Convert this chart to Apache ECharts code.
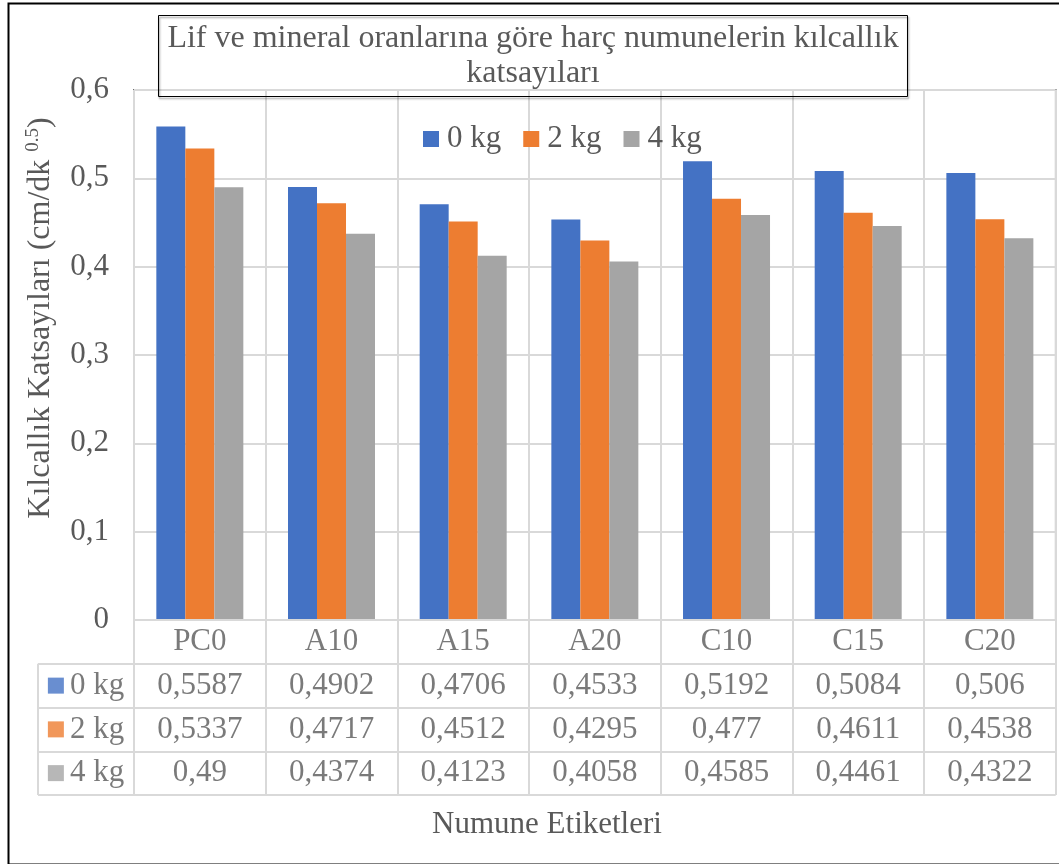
<!DOCTYPE html>
<html>
<head>
<meta charset="utf-8">
<script src="https://cdn.jsdelivr.net/npm/echarts@6/dist/echarts.min.js"></script>
<style>
html,body{margin:0;padding:0;background:#fff;}
#chart{width:1059px;height:864px;}
</style>
</head>
<body>
<div id="chart"></div>
<script>
const categories = ['PC0', 'A10', 'A15', 'A20', 'C10', 'C15', 'C20'];
const seriesNames = ['0 kg', '2 kg', '4 kg'];
const kg0 = [0.5587, 0.4902, 0.4706, 0.4533, 0.5192, 0.5084, 0.506];
const kg2 = [0.5337, 0.4717, 0.4512, 0.4295, 0.477, 0.4611, 0.4538];
const kg4 = [0.49, 0.4374, 0.4123, 0.4058, 0.4585, 0.4461, 0.4322];
const yTicks = [0, 0.1, 0.2, 0.3, 0.4, 0.5, 0.6];

const colors = ['#4472C4', '#ED7D31', '#A5A5A5'];
const FONT = '"Liberation Serif", "Times New Roman", serif';
const TXT = '#595959';
const GRIDC = '#d9d9d9';
const FS = 31;
const fmt = v => String(v).replace('.', ',');

const allSeries = [kg0, kg2, kg4];

// table data: header row (categories) + value rows
const tableData = [];
categories.forEach((c, i) => tableData.push([i, 0, c]));
allSeries.forEach((arr, r) => arr.forEach((v, i) => tableData.push([i, r + 1, fmt(v)])));
const rowHeadData = seriesNames.map((n, r) => [0, r, n]);

const chart = echarts.init(document.getElementById('chart'));
const option = {
  animation: false,
  backgroundColor: '#fff',
  title: [{
    text: 'Lif ve mineral oranlarına göre harç numunelerin kılcallık\nkatsayıları',
    left: 524, top: 15, textAlign: 'center',
    padding: [6, 9, 6, 9],
    borderColor: '#000', borderWidth: 1,
    shadowColor: 'rgba(0,0,0,0.45)', shadowBlur: 2, shadowOffsetX: 1, shadowOffsetY: 2,
    textStyle: { fontFamily: FONT, fontSize: 32, lineHeight: 35, fontWeight: 'normal', color: TXT }
  }, {
    text: 'Numune Etiketleri',
    left: 547, top: 809, textAlign: 'center', padding: 0,
    textStyle: { fontFamily: FONT, fontSize: FS, fontWeight: 'normal', color: TXT }
  }],
  legend: {
    data: seriesNames,
    left: 423, top: 122, padding: 0,
    itemWidth: 16, itemHeight: 16, itemGap: 22,
    icon: 'rect',
    textStyle: { fontFamily: FONT, fontSize: FS, color: TXT, lineHeight: 34, padding: [0, 0, 0, 3] }
  },
  grid: [
    { left: 134, top: 90, width: 921.7, height: 530, show: true, borderColor: '#000', borderWidth: 1.5, backgroundColor: 'transparent' },
    { left: 134, top: 620, width: 921.7, height: 175 },
    { left: 38, top: 663.75, width: 96, height: 131.25 }
  ],
  xAxis: [
    { type: 'category', gridIndex: 0, data: categories,
      axisLine: { show: false }, axisTick: { show: false }, axisLabel: { show: false },
      splitLine: { show: true, lineStyle: { color: GRIDC, width: 2 } } },
    { type: 'category', gridIndex: 1, data: categories, z: 5,
      axisLine: { show: false }, axisTick: { show: false }, axisLabel: { show: false },
      splitLine: { show: true, lineStyle: { color: GRIDC, width: 2 } } },
    { type: 'category', gridIndex: 2, data: [''], z: 5,
      axisLine: { show: false }, axisTick: { show: false }, axisLabel: { show: false },
      splitLine: { show: true, lineStyle: { color: GRIDC, width: 2 } } }
  ],
  yAxis: [
    { type: 'value', gridIndex: 0, min: 0, max: 0.6, interval: 0.1,
      axisLine: { show: false }, axisTick: { show: false },
      axisLabel: { margin: 25, fontFamily: FONT, fontSize: FS, color: TXT,
        formatter: v => { const t = yTicks.find(x => Math.abs(x - v) < 1e-9); return fmt(t !== undefined ? t : v); } },
      splitLine: { show: true, lineStyle: { color: GRIDC, width: 2 } },
      name: '{m|Kılcallık Katsayıları (cm/dk }{s|0.5}{m|)}',
      nameLocation: 'middle', nameGap: 76,
      nameTextStyle: { padding: [0, 0, 0, 74],
        rich: {
          m: { fontFamily: FONT, fontSize: 32, color: TXT, lineHeight: 34 },
          s: { fontFamily: FONT, fontSize: 19, color: TXT, lineHeight: 34, verticalAlign: 'top', padding: [0, 0, 12, 0] }
        } } },
    { type: 'category', gridIndex: 1, data: ['h', 'r0', 'r1', 'r2'], inverse: true, z: 5,
      axisLine: { show: false }, axisTick: { show: false }, axisLabel: { show: false },
      splitLine: { show: true, lineStyle: { color: GRIDC, width: 2 } } },
    { type: 'category', gridIndex: 2, data: seriesNames, inverse: true, z: 5,
      axisLine: { show: false }, axisTick: { show: false }, axisLabel: { show: false },
      splitLine: { show: true, lineStyle: { color: GRIDC, width: 2 } } }
  ],
  series: [
    ...allSeries.map((arr, i) => ({
      name: seriesNames[i], type: 'bar', xAxisIndex: 0, yAxisIndex: 0,
      data: arr, barWidth: 29, barGap: '0%',
      itemStyle: { color: colors[i] }
    })),
    { type: 'scatter', xAxisIndex: 1, yAxisIndex: 1, data: tableData,
      symbol: 'rect', symbolSize: 1, itemStyle: { color: 'rgba(0,0,0,0)' }, silent: true,
      label: { show: true, position: 'inside', fontFamily: FONT, fontSize: FS, color: TXT,
        formatter: p => p.value[2] } },
    { type: 'scatter', xAxisIndex: 2, yAxisIndex: 2, data: rowHeadData,
      symbol: 'rect', symbolSize: 1, itemStyle: { color: 'rgba(0,0,0,0)' }, silent: true,
      label: { show: true, position: 'inside',
        formatter: p => '{q' + p.value[1] + '|}{t|' + p.value[2] + '}',
        rich: {
          q0: { width: 16, height: 16, backgroundColor: colors[0] },
          q1: { width: 16, height: 16, backgroundColor: colors[1] },
          q2: { width: 16, height: 16, backgroundColor: colors[2] },
          t: { fontFamily: FONT, fontSize: FS, color: TXT, padding: [0, 0, 0, 6] }
        } } }
  ],
  graphic: [{
    type: 'rect', left: 6, top: 1, silent: true, z: 100,
    shape: { width: 1060, height: 861 },
    style: { fill: 'none', stroke: '#000', lineWidth: 2 }
  }]
};
chart.setOption(option);
</script>
</body>
</html>
